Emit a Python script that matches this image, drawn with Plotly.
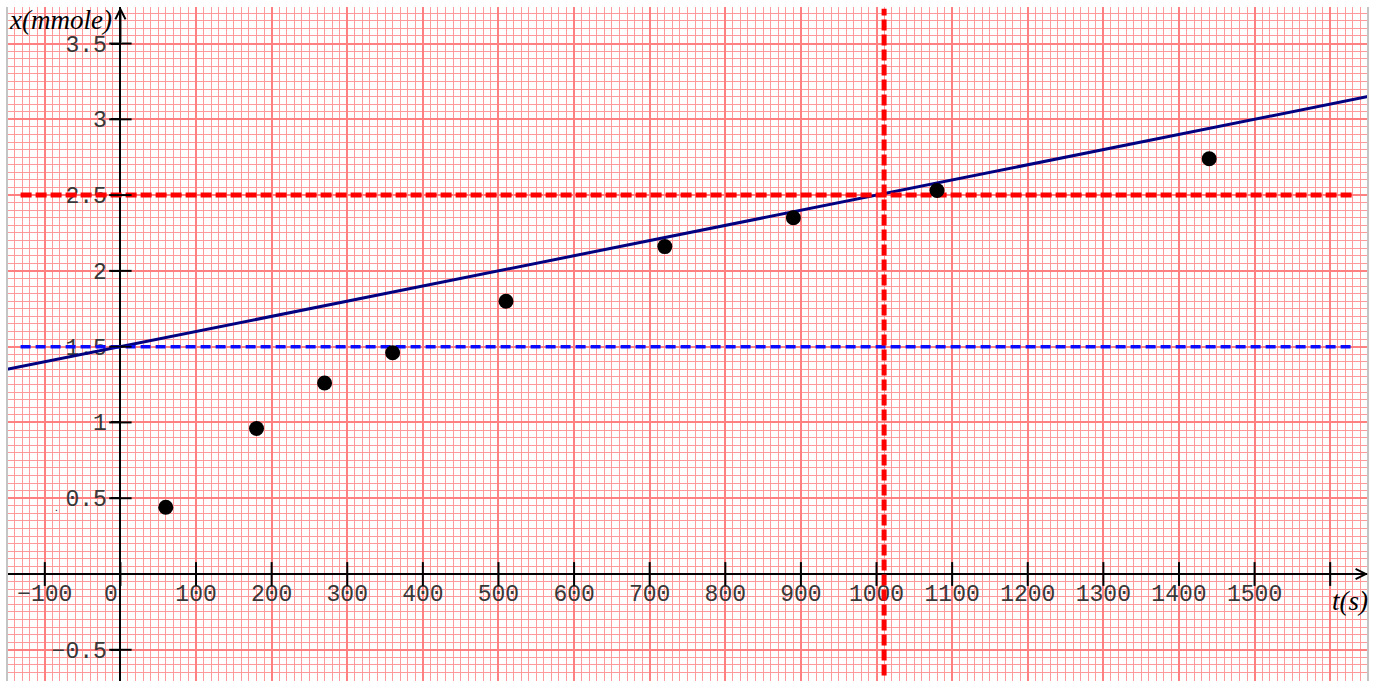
import plotly.graph_objects as go

# ---- data ----
t_s = [60, 180, 270, 360, 510, 720, 890, 1080, 1440]
x_mmol = [0.44, 0.96, 1.26, 1.46, 1.80, 2.16, 2.35, 2.53, 2.74]

fit_t = [-150, 1650]
fit_x = [1.35, 3.15]

half_t = [-132, 1631]
half_level = [2.5, 2.5]
half_time = [1010, 1010]
half_time_y = [-0.67, 3.73]

x0_t = [-132, 1628]
x0_level = [1.5, 1.5]

x_tickvals = [-100, 0, 100, 200, 300, 400, 500, 600, 700, 800, 900, 1000,
              1100, 1200, 1300, 1400, 1500, 1600]
x_ticktext = ["−100", "", "100", "200", "300", "400", "500", "600", "700", "800",
              "900", "1000", "1100", "1200", "1300", "1400", "1500", ""]
y_tickvals = [-0.5, 0.5, 1, 1.5, 2, 2.5, 3, 3.5]
y_ticktext = ["−0.5", "0.5", "1", "1.5", "2", "2.5", "3", "3.5"]

X_RANGE = [-150, 1650]
Y_RANGE = [-0.706, 3.741]

MAJOR = "#ff8080"
MINOR = "#ff9a9a"
TICKFONT = dict(family="Liberation Mono", size=23, color="#383838")

fig = go.Figure()

# fitted line
fig.add_trace(go.Scatter(x=fit_t, y=fit_x, mode="lines",
                         line=dict(color="#000080", width=3), hoverinfo="skip"))
# blue dashed x0 level
fig.add_trace(go.Scatter(x=x0_t, y=x0_level, mode="lines",
                         line=dict(color="#0a0aff", width=3.5, dash="10px,5px"), hoverinfo="skip"))
# red dashed half level / half time
fig.add_trace(go.Scatter(x=half_t, y=half_level, mode="lines",
                         line=dict(color="#ff0000", width=5, dash="11px,4px"), hoverinfo="skip"))
fig.add_trace(go.Scatter(x=half_time, y=half_time_y, mode="lines",
                         line=dict(color="#ff0000", width=5, dash="11px,4px"), hoverinfo="skip"))
# data points
fig.add_trace(go.Scatter(x=t_s, y=x_mmol, mode="markers",
                         marker=dict(color="black", size=15)))
# crossing tick marks
fig.add_trace(go.Scatter(x=x_tickvals, y=[0] * len(x_tickvals), mode="markers",
                         marker=dict(symbol="line-ns", size=17,
                                     line=dict(color="black", width=2)), hoverinfo="skip"))
fig.add_trace(go.Scatter(x=[0] * len(y_tickvals), y=y_tickvals, mode="markers",
                         marker=dict(symbol="line-ew", size=16,
                                     line=dict(color="black", width=2)), hoverinfo="skip"))

xpos = (0 - Y_RANGE[0]) / (Y_RANGE[1] - Y_RANGE[0])
ypos = (0 - X_RANGE[0]) / (X_RANGE[1] - X_RANGE[0])

fig.update_layout(
    width=1383, height=681,
    margin=dict(l=7, r=15, t=7, b=0),
    paper_bgcolor="white", plot_bgcolor="white",
    showlegend=False,
    xaxis=dict(range=X_RANGE, tickmode="array", tickvals=x_tickvals, ticktext=x_ticktext,
               showgrid=True, gridcolor=MAJOR, gridwidth=2,
               minor=dict(tick0=0, dtick=10, showgrid=True, gridcolor=MINOR, gridwidth=1),
               zeroline=False, showline=True, linecolor="black", linewidth=2,
               anchor="free", position=xpos, ticks="", ticklabelstandoff=-2,
               tickfont=TICKFONT, layer="below traces", automargin=False),
    yaxis=dict(range=Y_RANGE, tickmode="array", tickvals=y_tickvals, ticktext=y_ticktext,
               showgrid=True, gridcolor=MAJOR, gridwidth=2,
               minor=dict(tick0=0, dtick=0.05, showgrid=True, gridcolor=MINOR, gridwidth=1),
               zeroline=False, showline=True, linecolor="black", linewidth=2,
               anchor="free", position=ypos, ticks="outside", ticklen=8, tickwidth=2,
               tickcolor="black", tickfont=TICKFONT, layer="below traces", automargin=False),
)

fig.add_annotation(x=0, y=0, xref="x", yref="y", text="0", showarrow=False,
                   xanchor="right", yanchor="top", xshift=0, yshift=-6,
                   font=TICKFONT)
fig.add_annotation(x=-84, y=0.44, xref="x", yref="y", text=".", showarrow=False,
                   font=dict(family="Liberation Sans", size=10, color="black"))

# axis arrows
fig.add_annotation(x=1650, y=0, ax=1560, ay=0, xref="x", yref="y", axref="x", ayref="y",
                   text="", showarrow=True, arrowhead=5, arrowsize=1, arrowwidth=2,
                   arrowcolor="black")
fig.add_annotation(x=0, y=3.741, ax=0, ay=3.5, xref="x", yref="y", axref="x", ayref="y",
                   text="", showarrow=True, arrowhead=5, arrowsize=1, arrowwidth=2,
                   arrowcolor="black")

# axis titles
fig.add_annotation(x=0, y=1, xref="paper", yref="paper", xanchor="left", yanchor="top",
                   text="<i>x(mmole)</i>", showarrow=False, xshift=0, yshift=4,
                   font=dict(family="Liberation Serif", size=27, color="black"))
fig.add_annotation(x=1, y=0, xref="paper", yref="y", xanchor="right", yanchor="top",
                   text="<i>t(s)</i>", showarrow=False, yshift=-10, xshift=2,
                   font=dict(family="Liberation Serif", size=27, color="black"))

# page borders
fig.add_shape(type="line", xref="paper", yref="paper", x0=0, x1=0, y0=0, y1=1,
              line=dict(color="#c4c4c4", width=2))
fig.add_shape(type="line", xref="paper", yref="paper", x0=1, x1=1, y0=0, y1=1,
              line=dict(color="#c4c4c4", width=2))

fig.write_html("out.html", config={"displayModeBar": False},
               post_script="document.body.style.margin='0';")
